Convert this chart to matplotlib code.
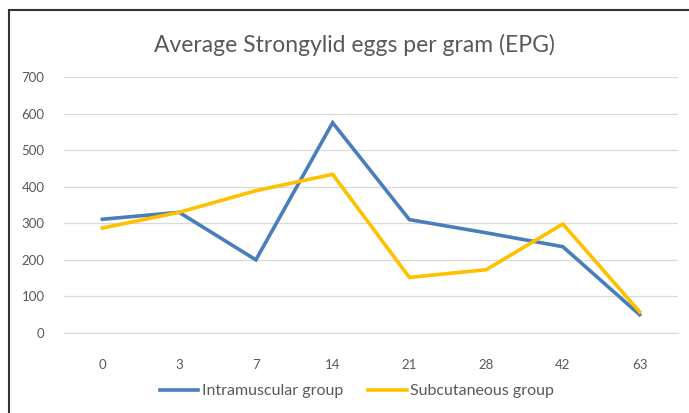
import matplotlib
matplotlib.use("Agg")
import matplotlib.pyplot as plt
from matplotlib.lines import Line2D

# --- data ---
days = ["0", "3", "7", "14", "21", "28", "42", "63"]
intramuscular = [311, 330, 200, 575, 310, 274, 236, 50]
subcutaneous = [287, 330, 389, 434, 152, 173, 298, 58]
y_ticks = [0, 100, 200, 300, 400, 500, 600, 700]

BLUE = "#4a7ebb"
GOLD = "#ffc000"
TEXT = "#595959"

plt.rcParams["font.family"] = ["Lato", "DejaVu Sans"]

fig = plt.figure(figsize=(6.89, 4.13), dpi=100)
ax = fig.add_axes([64 / 689, 80 / 413, 614 / 689, 256 / 413])

x = list(range(len(days)))
ax.plot(x, intramuscular, color=BLUE, lw=2.6, label="Intramuscular group",
        solid_joinstyle="miter")
ax.plot(x, subcutaneous, color=GOLD, lw=2.6, label="Subcutaneous group",
        solid_joinstyle="miter")

ax.set_xlim(-0.5, len(days) - 0.5)
ax.set_ylim(0, 700)
ax.set_yticks(y_ticks)
ax.set_xticks(x)
ax.set_xticklabels(days)
ax.yaxis.grid(True, color="#d9d9d9", lw=0.9)
ax.set_axisbelow(True)
for s in ax.spines.values():
    s.set_visible(False)
ax.spines["bottom"].set_visible(True)
ax.spines["bottom"].set_color("#d9d9d9")
ax.tick_params(length=0, colors=TEXT, labelsize=9.5)
ax.tick_params(axis="x", pad=19)
ax.tick_params(axis="y", pad=14)

fig.text(354 / 689, 1 - 45 / 413, "Average Strongylid eggs per gram (EPG)",
         ha="center", va="center", fontsize=16.5, color=TEXT)

ax.legend(loc="center", bbox_to_anchor=(357 / 689, 22 / 413), bbox_transform=fig.transFigure,
          ncol=2, frameon=False, fontsize=11.5, labelcolor=TEXT,
          handlelength=2.4, handletextpad=0.2, columnspacing=1.6)

# chart border (top and left edges visible)
fig.add_artist(Line2D([9 / 689, 9 / 689], [0, 1 - 10 / 413],
                      transform=fig.transFigure, color="#333333", lw=1.5))
fig.add_artist(Line2D([9 / 689, 1], [1 - 10 / 413, 1 - 10 / 413],
                      transform=fig.transFigure, color="#333333", lw=1.5))

fig.savefig("out.png", dpi=100)
